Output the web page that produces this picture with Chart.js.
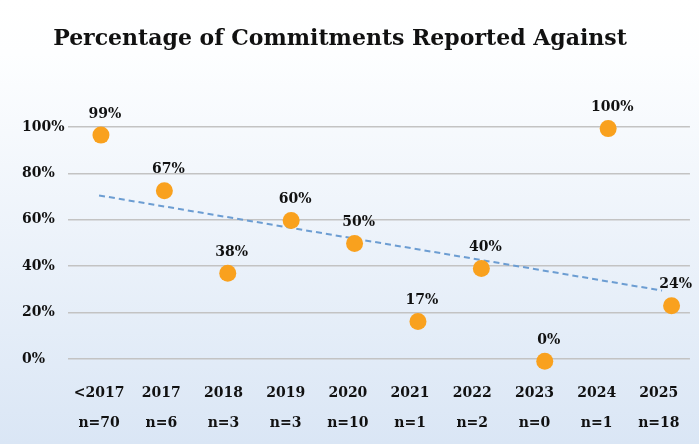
<!DOCTYPE html>
<html>
<head>
<meta charset="utf-8">
<script src="https://cdn.jsdelivr.net/npm/chart.js"></script>
<style>
  html, body { margin: 0; padding: 0; background: #fff; }
  #wrap { width: 699px; height: 444px; position: relative; }
</style>
</head>
<body>
<div id="wrap"><canvas id="graph1"></canvas></div>
<script>
// chart data
var categories = ['<2017', '2017', '2018', '2019', '2020', '2021', '2022', '2023', '2024', '2025'];
var counts = ['n=70', 'n=6', 'n=3', 'n=3', 'n=10', 'n=1', 'n=2', 'n=0', 'n=1', 'n=18'];
var pctLabels = ['99%', '67%', '38%', '60%', '50%', '17%', '40%', '0%', '100%', '24%'];
// where the dots sit on the chart
var plotValues = [96.5, 72.5, 37, 59.7, 49.8, 16.2, 39, -1, 99.3, 23];
var trendX = [-0.03, 8.85];
var trendY = [70.5, 29.5];
var titleText = 'Percentage of Commitments Reported Against';

var serif = '"DejaVu Serif", "Liberation Serif", serif';

var bgPlugin = {
  id: 'bg',
  beforeDraw: function (chart) {
    var ctx = chart.ctx;
    var g = ctx.createLinearGradient(0, 0, 0, chart.height);
    g.addColorStop(0, '#ffffff');
    g.addColorStop(0.12, '#fdfeff');
    g.addColorStop(1, '#dae6f5');
    ctx.save();
    ctx.fillStyle = g;
    ctx.fillRect(0, 0, chart.width, chart.height);
    ctx.restore();
  }
};

var titlePlugin = {
  id: 'myTitle',
  afterDraw: function (chart) {
    var ctx = chart.ctx;
    ctx.save();
    ctx.font = 'bold 22px ' + serif;
    ctx.fillStyle = '#111111';
    ctx.textAlign = 'center';
    ctx.textBaseline = 'middle';
    ctx.fillText(titleText, 340, 39);
    ctx.restore();
  }
};

var labelPlugin = {
  id: 'pointLabels',
  afterDatasetsDraw: function (chart) {
    var ctx = chart.ctx;
    var meta = chart.getDatasetMeta(0);
    ctx.save();
    ctx.font = 'bold 14px ' + serif;
    ctx.fillStyle = '#111111';
    ctx.textAlign = 'center';
    ctx.textBaseline = 'middle';
    meta.data.forEach(function (pt, i) {
      ctx.fillText(pctLabels[i], pt.x + 4, pt.y - 21);
    });
    ctx.restore();
  }
};

function showGraph() {
  var context = document.getElementById('graph1').getContext('2d');
  var points = plotValues.map(function (v, i) { return { x: i, y: v }; });
  var trend = trendX.map(function (x, i) { return { x: x, y: trendY[i] }; });

  var chart = new Chart(context, {
    type: 'line',
    data: {
      labels: categories.map(function (c, i) { return [c, counts[i]]; }),
      datasets: [{
        data: points,
        xAxisID: 'xp',
        showLine: false,
        pointRadius: 8.5,
        pointHoverRadius: 8.5,
        pointBackgroundColor: '#f9a11e',
        pointBorderWidth: 0,
        clip: false
      }, {
        data: trend,
        xAxisID: 'xp',
        borderColor: '#6c9dd2',
        borderWidth: 2,
        borderDash: [6, 4],
        pointRadius: 0,
        fill: false
      }]
    },
    options: {
      responsive: true,
      maintainAspectRatio: false,
      animation: false,
      layout: { padding: { top: 127, left: 22, right: 9, bottom: 6 } },
      plugins: {
        legend: { display: false },
        title: { display: false },
        tooltip: { enabled: false }
      },
      scales: {
        x: {
          type: 'category',
          offset: true,
          grid: { display: false, drawTicks: false },
          border: { display: false },
          afterFit: function (scale) { scale.height = 79; },
          ticks: {
            color: '#111111',
            padding: 19,
            maxRotation: 0,
            autoSkip: false,
            font: { family: serif, weight: 'bold', size: 14, lineHeight: 30 / 14 }
          }
        },
        xp: {
          type: 'linear',
          display: false,
          min: -0.52,
          max: 9.29
        },
        y: {
          min: 0,
          max: 100,
          grid: { color: '#c3c3c3', lineWidth: 1.5, drawTicks: false },
          border: { display: false },
          afterFit: function (scale) { scale.width = 46; },
          ticks: {
            stepSize: 20,
            crossAlign: 'far',
            color: '#111111',
            font: { family: serif, weight: 'bold', size: 14 },
            callback: function (v) { return v + '%'; }
          }
        }
      }
    },
    plugins: [bgPlugin, titlePlugin, labelPlugin]
  });
}

showGraph();
</script>
</body>
</html>
